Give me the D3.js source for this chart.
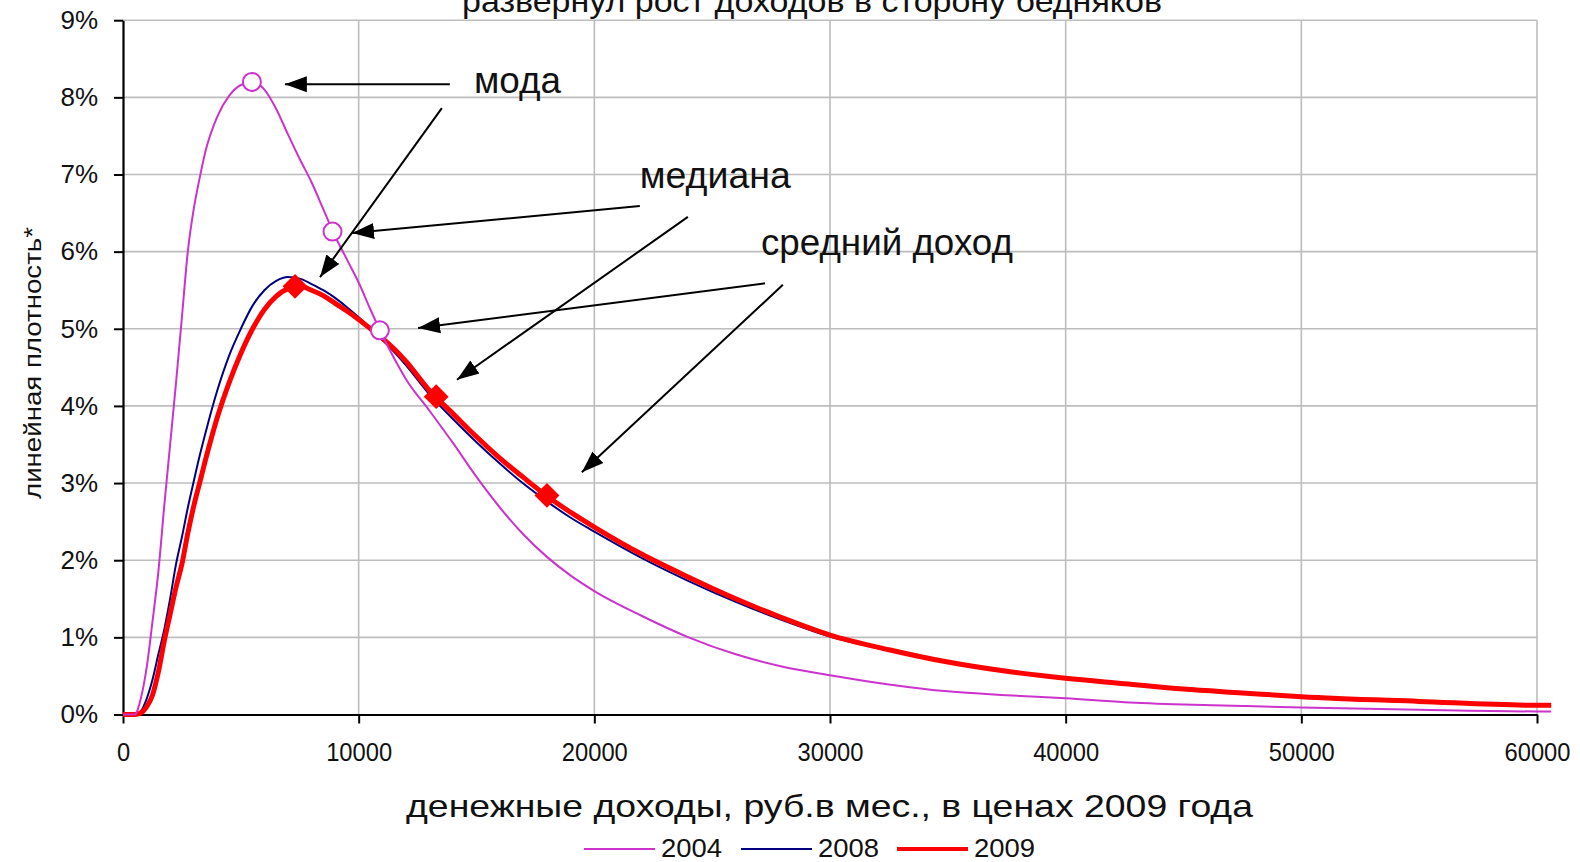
<!DOCTYPE html>
<html>
<head>
<meta charset="utf-8">
<script src="https://cdn.jsdelivr.net/npm/d3@7"></script>
<style>
  body { margin: 0; background: #fff; }
  svg { display: block; font-family: "Liberation Sans", Arial, sans-serif; }
</style>
</head>
<body>
<div id="chart"></div>
<script>
// income grid (rub per month) shared by all three curves
var incomes = [0, 500, 750, 1000, 1250, 1500, 1750, 2000, 2250, 2500, 2750, 3000, 3250, 3500, 4000, 4500,
    5000, 5500, 6000, 6500, 7000, 7500, 8000, 8500, 9000, 9500, 10000, 10500, 11000, 11500, 12000,
    13000, 14000, 15000, 16000, 17000, 18000, 19000, 20000, 22000, 24000, 26000, 28000, 30000,
    32500, 35000, 37500, 40000, 42500, 45000, 47500, 50000, 55000, 60000, 60600];

// linear density, %
var dens2004 = [0, 0, 0.2, 0.6, 1.2, 1.85, 2.7, 3.5, 4.3, 5.15, 6.0, 6.55, 6.95, 7.3, 7.75, 8.02,
    8.16, 8.2, 8.1, 7.85, 7.52, 7.2, 6.9, 6.55, 6.2, 5.9, 5.6, 5.25, 4.92, 4.62, 4.35,
    3.94, 3.52, 3.08, 2.68, 2.33, 2.04, 1.8, 1.6, 1.28, 1.0, 0.78, 0.62, 0.51,
    0.39, 0.3, 0.25, 0.21, 0.16, 0.13, 0.11, 0.09, 0.06, 0.04, 0.04];
var dens2008 = [0, 0, 0.04, 0.2, 0.45, 0.78, 1.1, 1.5, 1.95, 2.3, 2.68, 3.02, 3.35, 3.65, 4.2, 4.65,
    5.0, 5.3, 5.5, 5.62, 5.67, 5.65, 5.58, 5.5, 5.4, 5.28, 5.15, 5.01, 4.86, 4.7, 4.53,
    4.15, 3.83, 3.53, 3.25, 2.99, 2.76, 2.55, 2.37, 2.03, 1.73, 1.46, 1.22, 1.01,
    0.83, 0.67, 0.55, 0.46, 0.39, 0.32, 0.27, 0.22, 0.16, 0.11, 0.11];
var dens2009 = [0, 0, 0.02, 0.1, 0.25, 0.55, 0.95, 1.3, 1.65, 1.95, 2.35, 2.7, 3.0, 3.3, 3.85, 4.3,
    4.68, 5.0, 5.25, 5.42, 5.52, 5.55, 5.5, 5.43, 5.33, 5.23, 5.12, 5.0, 4.88, 4.74, 4.58,
    4.2, 3.9, 3.6, 3.32, 3.07, 2.83, 2.62, 2.43, 2.08, 1.78, 1.5, 1.25, 1.03,
    0.84, 0.68, 0.56, 0.47, 0.4, 0.33, 0.28, 0.23, 0.17, 0.12, 0.12];

// mode, median, mean markers
var marksX2004 = [5470, 8890, 10900];
var marksY2004 = [8.2, 6.26, 4.98];
var marksX2009 = [7300, 13290, 17990];
var marksY2009 = [5.55, 4.12, 2.84];

var seriesNames = ["2004", "2008", "2009"];
var xTicks = [0, 10000, 20000, 30000, 40000, 50000, 60000];
var yTicks = [0, 1, 2, 3, 4, 5, 6, 7, 8, 9];

// annotation labels and arrows (data units)
var noteLabels = ["мода", "медиана", "средний доход"];
var noteLabelX = [14890, 21930, 27070];
var noteLabelY = [8.06, 6.82, 5.96];
var arrowFromX = [13870, 13530, 21930, 23970, 27240, 28000];
var arrowFromY = [8.17, 7.86, 6.59, 6.45, 5.59, 5.57];
var arrowToX = [6870, 8360, 9720, 14170, 12520, 19470];
var arrowToY = [8.17, 5.67, 6.24, 4.34, 5.01, 3.14];

var colors = ["#cc33cc", "#000080", "#ff0000"];
var widths = [2, 2, 5];

var margin = {top: 20.2, left: 123},
    width = 1414,
    height = 694.3;

var svg = d3.select("#chart").append("svg")
    .attr("width", 1580)
    .attr("height", 862);

var x = d3.scaleLinear().domain([0, 60000]).range([0, width]);
var y = d3.scaleLinear().domain([0, 9]).range([height, 0]);

function addText(sel, str, px, py, size, len, anchor) {
    return sel.append("text")
        .attr("x", px).attr("y", py)
        .attr("font-size", size)
        .attr("textLength", len)
        .attr("lengthAdjust", "spacingAndGlyphs")
        .attr("text-anchor", anchor || "start")
        .attr("fill", "#111")
        .text(str);
}

// title (cut off at the top, as in the source)
addText(svg, "развернул рост доходов в сторону бедняков", 812, 12, 32, 700, "middle");

var g = svg.append("g")
    .attr("transform", "translate(" + margin.left + "," + margin.top + ")");

// grid
g.selectAll(".hgrid").data(yTicks.slice(1)).enter().append("line")
    .attr("x1", 0).attr("x2", x(60000))
    .attr("y1", function(d) { return y(d); }).attr("y2", function(d) { return y(d); })
    .attr("stroke", "#bdbdbd").attr("stroke-width", 1.6);
g.selectAll(".vgrid").data(xTicks.slice(1)).enter().append("line")
    .attr("x1", function(d) { return x(d); }).attr("x2", function(d) { return x(d); })
    .attr("y1", 0).attr("y2", y(0))
    .attr("stroke", "#bdbdbd").attr("stroke-width", 1.6);

// axes
var yAxis = g.append("g")
    .call(d3.axisLeft(y).tickValues(yTicks).tickFormat(function(d) { return d + "%"; })
        .tickSize(9).tickPadding(16).tickSizeOuter(0));
var xAxis = g.append("g")
    .attr("transform", "translate(0," + height + ")")
    .call(d3.axisBottom(x).tickValues(xTicks).tickFormat(function(d) { return d; })
        .tickSize(9).tickPadding(19).tickSizeOuter(0));

[yAxis, xAxis].forEach(function(a) {
    a.attr("font-family", null).attr("font-size", null);
    a.select(".domain").attr("stroke", "#000").attr("stroke-width", 2.2);
    a.selectAll(".tick line").attr("stroke", "#000").attr("stroke-width", 2);
    a.selectAll(".tick text").attr("fill", "#111").attr("font-size", 26);
});
xAxis.selectAll(".tick text")
    .attr("textLength", function(d) { return String(d).length * 13.2; })
    .attr("lengthAdjust", "spacingAndGlyphs");

// curves
var allDens = [dens2004, dens2008, dens2009];
var line = d3.line()
    .x(function(d) { return x(d[0]); })
    .y(function(d) { return y(d[1]); })
    .curve(d3.curveMonotoneX);

[1, 2, 0].forEach(function(i) {
    var pts = incomes.map(function(v, k) { return [v, allDens[i][k]]; });
    g.append("path")
        .attr("d", line(pts))
        .attr("fill", "none")
        .attr("stroke", colors[i])
        .attr("stroke-width", widths[i])
        .attr("stroke-linejoin", "round");
});

// 2009 markers: diamonds
g.selectAll(".diamond").data(marksX2009).enter().append("path")
    .attr("d", d3.symbol().type(d3.symbolSquare).size(310))
    .attr("transform", function(d, i) {
        return "translate(" + x(d) + "," + y(marksY2009[i]) + ") rotate(45)";
    })
    .attr("fill", "#ff0000");

// 2004 markers: open circles
g.selectAll(".ring").data(marksX2004).enter().append("circle")
    .attr("cx", function(d) { return x(d); })
    .attr("cy", function(d, i) { return y(marksY2004[i]); })
    .attr("r", 9)
    .attr("fill", "#fff")
    .attr("stroke", "#cc33cc")
    .attr("stroke-width", 2);

// arrows
svg.append("defs").append("marker")
    .attr("id", "head")
    .attr("markerUnits", "userSpaceOnUse")
    .attr("markerWidth", 24).attr("markerHeight", 18)
    .attr("refX", 22).attr("refY", 9)
    .attr("orient", "auto")
  .append("path")
    .attr("d", "M0,1 L22,9 L0,17 Z")
    .attr("fill", "#000");

g.selectAll(".arrow").data(arrowFromX).enter().append("line")
    .attr("x1", function(d) { return x(d); })
    .attr("y1", function(d, i) { return y(arrowFromY[i]); })
    .attr("x2", function(d, i) { return x(arrowToX[i]); })
    .attr("y2", function(d, i) { return y(arrowToY[i]); })
    .attr("stroke", "#000")
    .attr("stroke-width", 2)
    .attr("marker-end", "url(#head)");

var noteLen = [87, 151, 252];
noteLabels.forEach(function(s, i) {
    addText(g, s, x(noteLabelX[i]), y(noteLabelY[i]), 36, noteLen[i]);
});

// axis titles
addText(svg, "денежные доходы, руб.в мес., в ценах 2009 года", 406, 817, 32, 847);
addText(svg, "линейная плотность*", 0, 0, 23, 272, "middle")
    .attr("transform", "translate(41,363) rotate(-90)");

// legend
var legX = [584, 741, 897];
seriesNames.forEach(function(s, i) {
    svg.append("line")
        .attr("x1", legX[i]).attr("x2", legX[i] + 71)
        .attr("y1", 849).attr("y2", 849)
        .attr("stroke", colors[i])
        .attr("stroke-width", i == 2 ? 4 : 2);
    addText(svg, s, legX[i] + 77, 857, 26, 61);
});
</script>
</body>
</html>
